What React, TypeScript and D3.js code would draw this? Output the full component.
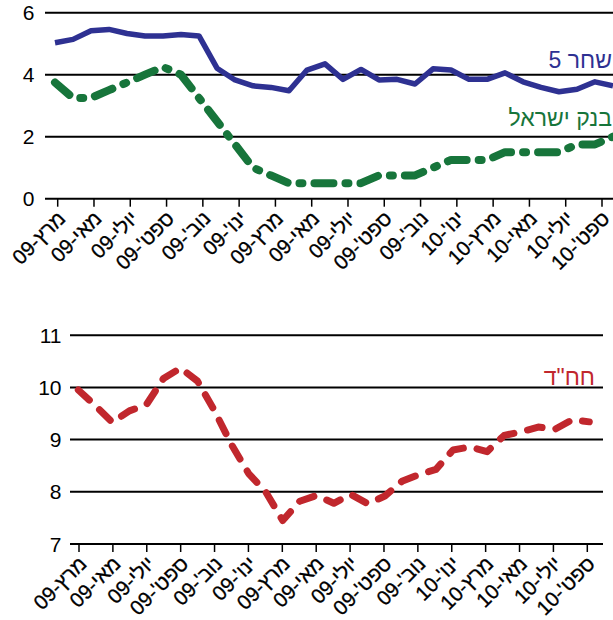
import React from 'react';
import * as d3 from 'd3';

const tickLabels = ["מרץ-09", "מאי-09", "יולי-09", "ספט'-09", "נוב'-09", "ינו'-09", "מרץ-09", "מאי-09", "יולי-09", "ספט'-09", "נוב'-09", "ינו'-10", "מרץ-10", "מאי-10", "יולי-10", "ספט'-10"];

const shahar5 = [5.03, 5.14, 5.42, 5.46, 5.33, 5.25, 5.25, 5.30, 5.25, 4.21, 3.83, 3.64, 3.59, 3.48, 4.15, 4.35, 3.85, 4.17, 3.83, 3.85, 3.70, 4.19, 4.15, 3.85, 3.85, 4.06, 3.77, 3.59, 3.45, 3.53, 3.77, 3.64];
const bankIsrael = [3.75, 3.25, 3.25, 3.5, 3.75, 4.0, 4.25, 4.0, 3.25, 2.5, 1.75, 1.0, 0.75, 0.5, 0.5, 0.5, 0.5, 0.5, 0.75, 0.75, 0.75, 1.0, 1.25, 1.25, 1.25, 1.5, 1.5, 1.5, 1.5, 1.75, 1.75, 2.0];
const hahad = [9.95, 9.65, 9.33, 9.55, 9.67, 10.17, 10.37, 10.12, 9.55, 8.9, 8.35, 8.0, 7.45, 7.82, 7.93, 7.78, 7.95, 7.77, 7.92, 8.2, 8.33, 8.43, 8.8, 8.86, 8.77, 9.08, 9.15, 9.24, 9.2, 9.38, 9.34];

const topYTicks = [0, 2, 4, 6];
const bottomYTicks = [7, 8, 9, 10, 11];

const FONT = "'Liberation Sans', Arial, 'DejaVu Sans', sans-serif";

const BLUE = '#2e3192';
const GREEN = '#17753b';
const RED = '#c1272d';

function Panel({ xTick, y, yTicks, gridLeft, gridRight, labelRight }: any) {
  const y0 = y(yTicks[0]);
  return (
    <g>
      {yTicks.map((t: number) => (
        <g key={t}>
          <line x1={gridLeft} x2={gridRight} y1={y(t)} y2={y(t)} stroke="#000" strokeWidth={2} />
          <text x={labelRight} y={y(t) + 7.5} textAnchor="end" fontSize={21} fontFamily={FONT} fill="#000">{t}</text>
        </g>
      ))}
      {tickLabels.map((lab, i) => (
        <g key={i}>
          <line x1={xTick(i)} x2={xTick(i)} y1={y0} y2={y0 + 8} stroke="#000" strokeWidth={1.5} />
          <text
            transform={`translate(${xTick(i) + 9},${y0 + 21}) rotate(-45)`}
            textAnchor="end"
            fontSize={20.5}
            fontFamily={FONT}
            fill="#000"
            stroke="#000"
            strokeWidth={0.3}
          >{lab}</text>
        </g>
      ))}
    </g>
  );
}

export default function App() {
  const yTop = d3.scaleLinear().domain([0, 6]).range([198.7, 12.7]);
  const xTopData = d3.scaleLinear().domain([0, shahar5.length - 1]).range([55, 613]);
  const xTopTick = d3.scaleLinear().domain([0, tickLabels.length - 1]).range([57.7, 602]);

  const yBot = d3.scaleLinear().domain([7, 11]).range([544, 335.2]);
  const xBotData = d3.scaleLinear().domain([0, hahad.length - 1]).range([78.3, 589.3]);
  const xBotTick = d3.scaleLinear().domain([0, tickLabels.length - 1]).range([79, 587.3]);

  const lineTop = d3.line<number>().x((_, i) => xTopData(i)).y(d => yTop(d));
  const lineBot = d3.line<number>().x((_, i) => xBotData(i)).y(d => yBot(d));

  return (
    <svg width={613} height={620} style={{ position: 'absolute', left: 0, top: 0, background: '#fff' }}>
      <rect x={0} y={0} width={613} height={620} fill="#fff" />
      <Panel xTick={xTopTick} y={yTop} yTicks={topYTicks} gridLeft={45} gridRight={613} labelRight={34.5} />
      <path d={lineTop(bankIsrael) || ''} fill="none" stroke={GREEN} strokeWidth={8} strokeDasharray="19 12 3 12" strokeLinecap="round" strokeLinejoin="round" />
      <path d={lineTop(shahar5) || ''} fill="none" stroke={BLUE} strokeWidth={5.5} strokeLinejoin="round" />
      <text x={612} y={68} textAnchor="end" fontSize={23} fontFamily={FONT} fill={BLUE}>שחר 5</text>
      <text x={612} y={126} textAnchor="end" fontSize={23} fontFamily={FONT} fill={GREEN}>בנק ישראל</text>

      <Panel xTick={xBotTick} y={yBot} yTicks={bottomYTicks} gridLeft={70} gridRight={603} labelRight={61.5} />
      <path d={lineBot(hahad) || ''} fill="none" stroke={RED} strokeWidth={7} strokeDasharray="15 14" strokeLinecap="round" strokeLinejoin="round" />
      <text x={595} y={385} textAnchor="end" fontSize={23} fontFamily={FONT} fill={RED}>חח"ד</text>
    </svg>
  );
}
